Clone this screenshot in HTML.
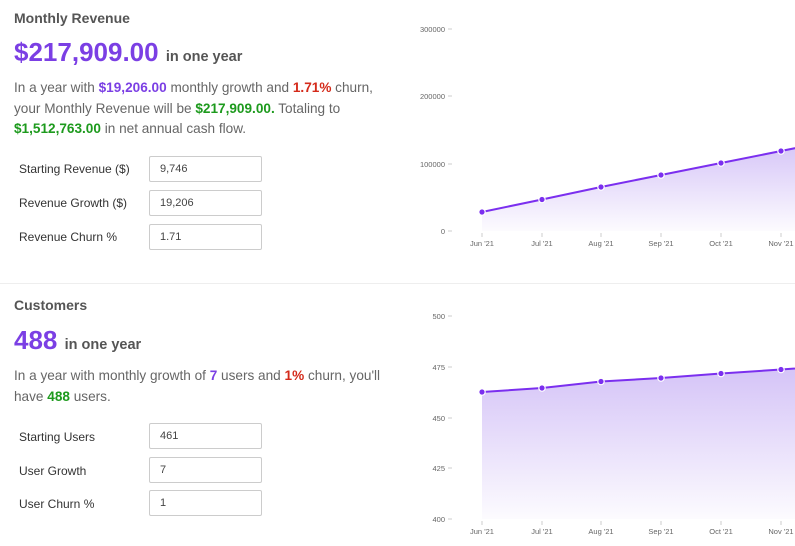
<!DOCTYPE html>
<html><head><meta charset="utf-8"><style>
*{margin:0;padding:0;box-sizing:border-box}
body{width:795px;height:546px;overflow:hidden;background:#fff;font-family:"Liberation Sans",sans-serif;position:relative;color:#666}
.a{position:absolute;white-space:nowrap}
.t{font-size:14px;font-weight:bold;color:#555}
.big{font-size:26px;font-weight:bold;color:#7b3fe4}
.big span{font-size:14.5px;color:#555}
.p{font-size:13.6px;line-height:20.5px;color:#666}
.pu{color:#7b3fe4;font-weight:bold}.g{color:#1d9a1d;font-weight:bold}.r{color:#d42a1a;font-weight:bold}
.l{font-size:12px;color:#333}
.in{position:absolute;width:113px;height:26px;border:1px solid #ccc;border-radius:2px;font-size:11px;color:#444;padding:6px 10px}
</style></head><body>
<div class="a t" style="left:14px;top:10px">Monthly Revenue</div>
<div class="a big" style="left:14px;top:37px">$217,909.00 <span>in one year</span></div>
<div class="a p" style="left:14px;top:78px">In a year with <span class="pu">$19,206.00</span> monthly growth and <span class="r">1.71%</span> churn,<br>your Monthly Revenue will be <span class="g">$217,909.00.</span> Totaling to<br><span class="g">$1,512,763.00</span> in net annual cash flow.</div>
<div class="a l" style="left:19px;top:162px">Starting Revenue ($)</div>
<div class="a l" style="left:19px;top:196px">Revenue Growth ($)</div>
<div class="a l" style="left:19px;top:230px">Revenue Churn %</div>
<div class="in" style="left:149px;top:156px">9,746</div>
<div class="in" style="left:149px;top:190px">19,206</div>
<div class="in" style="left:149px;top:224px">1.71</div>
<div class="a" style="left:0;top:283px;width:795px;height:1px;background:#eee"></div>
<div class="a t" style="left:14px;top:297px">Customers</div>
<div class="a big" style="left:14px;top:325px">488 <span>in one year</span></div>
<div class="a p" style="left:14px;top:366px">In a year with monthly growth of <span class="pu">7</span> users and <span class="r">1%</span> churn, you'll<br>have <span class="g">488</span> users.</div>
<div class="a l" style="left:19px;top:430px">Starting Users</div>
<div class="a l" style="left:19px;top:464px">User Growth</div>
<div class="a l" style="left:19px;top:497px">User Churn %</div>
<div class="in" style="left:149px;top:423px">461</div>
<div class="in" style="left:149px;top:457px">7</div>
<div class="in" style="left:149px;top:490px">1</div>
<svg class="a" style="left:0;top:0" width="795" height="546" font-family="Liberation Sans,sans-serif" font-size="7.5" fill="#666">
<defs><linearGradient id="g1" x1="0" y1="0" x2="0" y2="1"><stop offset="0" stop-color="#c9b3f5" stop-opacity=".8"/><stop offset="1" stop-color="#c9b3f5" stop-opacity=".05"/></linearGradient></defs>
<g text-anchor="end">
<text x="445" y="32">300000</text><text x="445" y="99">200000</text><text x="445" y="167">100000</text><text x="445" y="234">0</text>
<text x="445" y="319">500</text><text x="445" y="370">475</text><text x="445" y="421">450</text><text x="445" y="471">425</text><text x="445" y="522">400</text>
</g>
<g stroke="#ccc" stroke-width="1">
<path d="M448 29h4M448 96h4M448 164h4M448 231h4M448 316h4M448 367h4M448 418h4M448 468h4M448 519h4"/>
<path d="M482 233v4M542 233v4M601 233v4M661 233v4M721 233v4M781 233v4M482 521v4M542 521v4M601 521v4M661 521v4M721 521v4M781 521v4"/>
</g>
<g text-anchor="middle">
<text x="482" y="246">Jun '21</text><text x="542" y="246">Jul '21</text><text x="601" y="246">Aug '21</text><text x="661" y="246">Sep '21</text><text x="721" y="246">Oct '21</text><text x="781" y="246">Nov '21</text>
<text x="482" y="534">Jun '21</text><text x="542" y="534">Jul '21</text><text x="601" y="534">Aug '21</text><text x="661" y="534">Sep '21</text><text x="721" y="534">Oct '21</text><text x="781" y="534">Nov '21</text>
</g>
<path d="M482 212L542 199.5L601 187L661 175L721 163L781 151L841 139V231H482Z" fill="url(#g1)"/>
<path d="M482 212L542 199.5L601 187L661 175L721 163L781 151L841 139" fill="none" stroke="#7b2fef" stroke-width="2"/>
<path d="M482 392L542 388L601 381.5L661 378L721 373.5L781 369.5L841 365V519H482Z" fill="url(#g1)"/>
<path d="M482 392L542 388L601 381.5L661 378L721 373.5L781 369.5L841 365" fill="none" stroke="#7b2fef" stroke-width="2"/>
<g fill="#7b2fef" stroke="#fff" stroke-width="1.2">
<circle cx="482" cy="212" r="3.2"/><circle cx="542" cy="199.5" r="3.2"/><circle cx="601" cy="187" r="3.2"/><circle cx="661" cy="175" r="3.2"/><circle cx="721" cy="163" r="3.2"/><circle cx="781" cy="151" r="3.2"/>
<circle cx="482" cy="392" r="3.2"/><circle cx="542" cy="388" r="3.2"/><circle cx="601" cy="381.5" r="3.2"/><circle cx="661" cy="378" r="3.2"/><circle cx="721" cy="373.5" r="3.2"/><circle cx="781" cy="369.5" r="3.2"/>
</g>
</svg>
</body></html>
